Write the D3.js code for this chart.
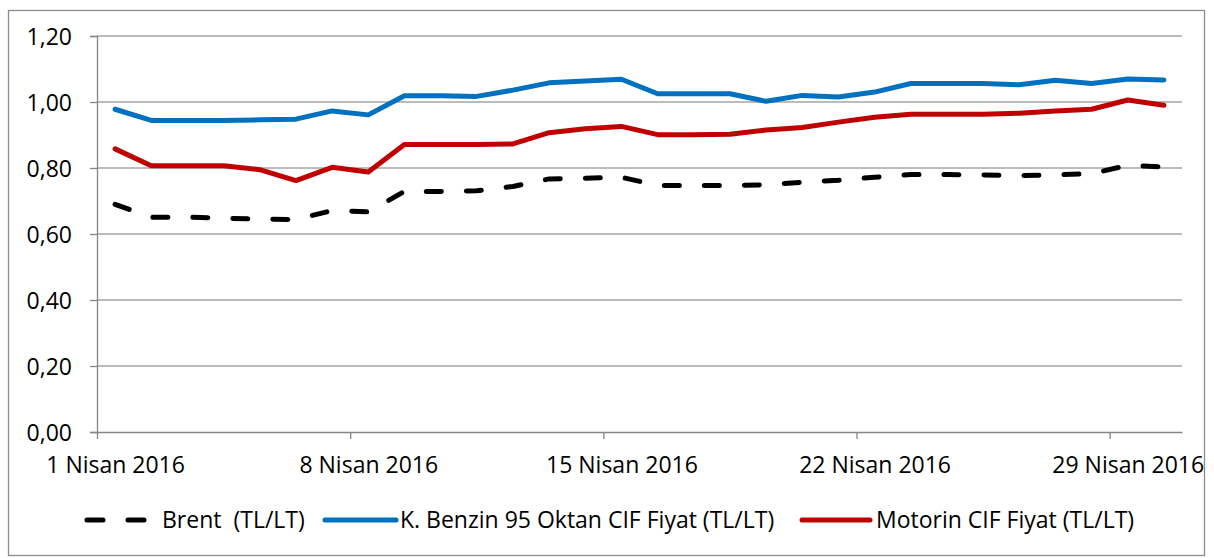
<!DOCTYPE html>
<html>
  <head>
    <meta charset="utf-8">
    <title>Brent / Benzin / Motorin</title>
    <script src="https://d3js.org/d3.v7.min.js"></script>
    <style>
      body { margin: 0; background: #fff; }
      text { font-family: "Open Sans", sans-serif; fill: #000; white-space: pre; }
    </style>
  </head>
  <body>
    <div id="chart"></div>
    <script>
      // April 2016, one value per day
      var startDate = "2016-04-01";
      var brent = [0.690, 0.651, 0.651, 0.648, 0.645, 0.644, 0.671, 0.667, 0.729, 0.729,
                   0.731, 0.744, 0.767, 0.769, 0.772, 0.747, 0.747, 0.747, 0.749, 0.757,
                   0.763, 0.772, 0.780, 0.780, 0.779, 0.777, 0.779, 0.783, 0.808, 0.803];
      var benzin = [0.978, 0.944, 0.944, 0.944, 0.946, 0.948, 0.973, 0.961, 1.019, 1.019,
                    1.017, 1.036, 1.058, 1.064, 1.069, 1.025, 1.025, 1.025, 1.002, 1.020,
                    1.015, 1.030, 1.056, 1.056, 1.056, 1.052, 1.066, 1.056, 1.070, 1.067];
      var motorin = [0.858, 0.807, 0.807, 0.807, 0.795, 0.762, 0.802, 0.788, 0.871, 0.871,
                     0.871, 0.873, 0.907, 0.919, 0.926, 0.901, 0.901, 0.902, 0.915, 0.923,
                     0.939, 0.954, 0.963, 0.963, 0.963, 0.966, 0.973, 0.978, 1.006, 0.990];
      var seriesNames = ["Brent  (TL/LT)", "K. Benzin 95 Oktan CIF Fiyat (TL/LT)", "Motorin CIF Fiyat (TL/LT)"];
      var xTickLabels = ["1 Nisan 2016", "8 Nisan 2016", "15 Nisan 2016", "22 Nisan 2016", "29 Nisan 2016"];
      var yTicks = [0, 0.2, 0.4, 0.6, 0.8, 1.0, 1.2];

      var W = 1214, H = 558;
      var margin = {top: 36, left: 97, right: 32, bottom: 126};
      var width = W - margin.left - margin.right,
          height = H - margin.top - margin.bottom;
      var fontSize = "23px";

      var svg = d3.select("#chart").append("svg")
        .attr("width", W).attr("height", H);

      // outer frame
      svg.append("rect")
        .attr("x", 8.5).attr("y", 10.5)
        .attr("width", 1196).attr("height", 545)
        .attr("fill", "none").attr("stroke", "#8c8c8c").attr("stroke-width", 1.3);

      var g = svg.append("g")
        .attr("transform", "translate(" + margin.left + "," + margin.top + ")");

      var day = d3.utcDay;
      var d0 = new Date(startDate + "T00:00:00Z");
      var x = d3.scaleUtc()
        .domain([d0, day.offset(d0, brent.length)])
        .range([0, width]);
      var y = d3.scaleLinear().domain([0, 1.2]).range([height, 0]);

      // each point sits in the middle of its day
      function pointDate(i) { return d3.utcHour.offset(day.offset(d0, i), 12); }
      var halfDay = x(pointDate(0)) - x(d0);

      // gridlines
      g.selectAll(".grid").data(yTicks.slice(1)).enter().append("line")
        .attr("x1", 0).attr("x2", width)
        .attr("y1", function(d) { return y(d); }).attr("y2", function(d) { return y(d); })
        .attr("stroke", "#a6a6a6").attr("stroke-width", 1.3);

      var fmt = function(d) { return d3.format(".2f")(d).replace(".", ","); };

      // Y axis
      var yAxis = g.append("g")
        .call(d3.axisLeft(y).tickValues(yTicks).tickFormat(fmt).tickSize(7).tickPadding(18));
      yAxis.select(".domain").attr("stroke", "#868686").attr("stroke-width", 1.3);
      yAxis.selectAll(".tick line").attr("stroke", "#868686").attr("stroke-width", 1.3);
      yAxis.selectAll("text").style("font-size", fontSize).attr("dy", "0.35em");

      // X axis, weekly ticks, labels centred on the day
      var tickDates = xTickLabels.map(function(t, i) { return day.offset(d0, i * 7); });
      var xAxis = g.append("g")
        .attr("transform", "translate(0," + height + ")")
        .call(d3.axisBottom(x).tickValues(tickDates)
          .tickFormat(function(d, i) { return xTickLabels[i]; })
          .tickSize(7).tickSizeOuter(0));
      xAxis.select(".domain").attr("stroke", "#868686").attr("stroke-width", 1.3);
      xAxis.selectAll(".tick line").attr("stroke", "#868686").attr("stroke-width", 1.3);
      xAxis.selectAll("text")
        .style("font-size", fontSize)
        .attr("x", halfDay)
        .attr("y", 33)
        .attr("dy", "0.35em");

      var line = d3.line()
        .x(function(d, i) { return x(pointDate(i)); })
        .y(function(d) { return y(d); });

      var styles = [
        {data: brent, color: "#000000", dash: "15,25"},
        {data: benzin, color: "#0070c0", dash: null},
        {data: motorin, color: "#c00000", dash: null}
      ];

      styles.forEach(function(s) {
        g.append("path")
          .datum(s.data)
          .attr("d", line)
          .attr("fill", "none")
          .attr("stroke", s.color)
          .attr("stroke-width", 5)
          .attr("stroke-linejoin", "round")
          .attr("stroke-linecap", "round")
          .attr("stroke-dasharray", s.dash);
      });

      // legend
      var legendY = 520;
      var legendItems = [
        {x1: 87, x2: 148, tx: 162},
        {x1: 325, x2: 396, tx: 400},
        {x1: 802, x2: 870, tx: 876}
      ];
      legendItems.forEach(function(l, i) {
        svg.append("line")
          .attr("x1", l.x1).attr("x2", l.x2)
          .attr("y1", legendY).attr("y2", legendY)
          .attr("stroke", styles[i].color)
          .attr("stroke-width", 5)
          .attr("stroke-linecap", "round")
          .attr("stroke-dasharray", i === 0 ? "16,25" : null);
        svg.append("text")
          .attr("x", l.tx).attr("y", legendY)
          .attr("dy", "0.35em")
          .style("font-size", fontSize)
          .text(seriesNames[i]);
      });
    </script>
  </body>
</html>
